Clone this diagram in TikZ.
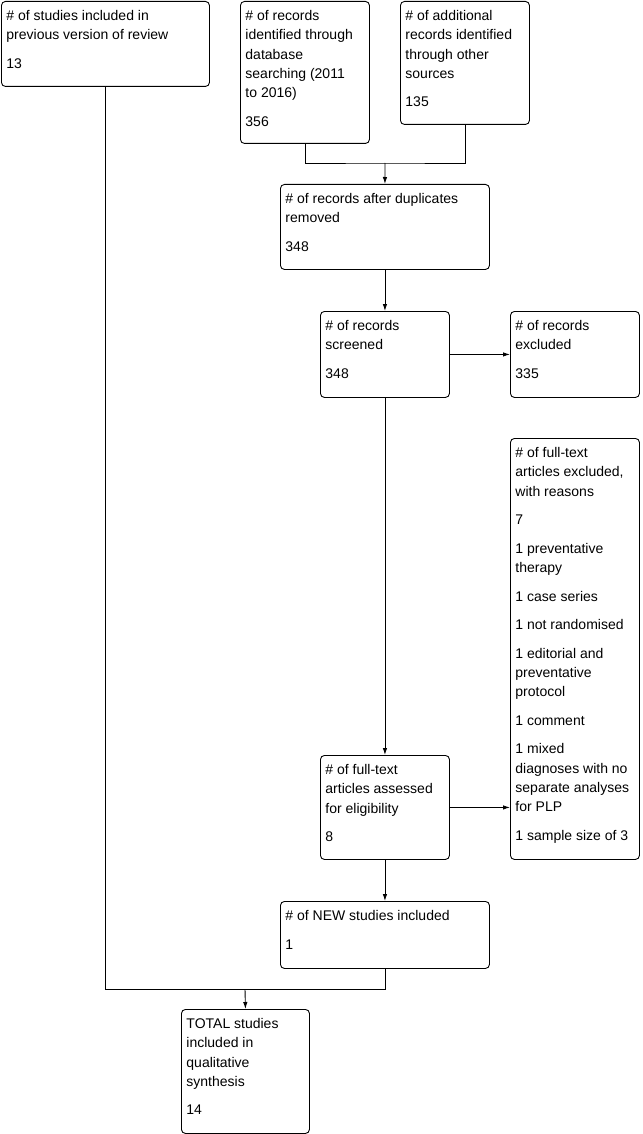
\documentclass[tikz,border=0pt]{standalone}
\usepackage{fontspec}
\setmainfont{Liberation Sans}
\usetikzlibrary{arrows.meta}

\tikzset{
  prisma/.style={draw, line width=0.9pt, rounded corners=4pt, anchor=north west,
    inner xsep=5pt, inner ysep=0pt, font=\fontsize{14}{19.2}\selectfont},
  link/.style={line width=0.9pt, -{Latex[length=7pt,width=4.5pt]}},
  plain/.style={line width=0.9pt},
}
\newcommand{\boxtxt}[3]{\parbox[t][#2pt][t]{#1pt}{\raggedright\rule{0pt}{19.3pt}#3}}
\newcommand{\gap}{\\[9.4pt]}

\begin{document}
\begin{tikzpicture}[x=1pt,y=-1pt]
    \useasboundingbox (0,0) rectangle (642,1134);
    \node[prisma] (prev) at (1,1) {\boxtxt{198}{85}{\# of studies included in\\previous version of review\gap 13}};
    \node[prisma] (db) at (240,1) {\boxtxt{119}{142}{\# of records\\identified through\\database\\searching (2011\\to 2016)\gap 356}};
    \node[prisma] (other) at (400,1) {\boxtxt{119}{123}{\# of additional\\records identified\\through other\\sources\gap 135}};
    \node[prisma] (dup) at (280,184) {\boxtxt{199}{85}{\# of records after duplicates\\removed\gap 348}};
    \node[prisma] (scr) at (320,311) {\boxtxt{119}{86}{\# of records\\screened\gap 348}};
    \node[prisma] (exc) at (510,311) {\boxtxt{119}{86}{\# of records\\excluded\gap 335}};
    \node[prisma] (ftexc) at (510,438) {\boxtxt{119}{421}{\# of full-text\\articles excluded,\\with reasons\gap 7\gap
        1 preventative\\therapy\gap 1 case series\gap 1 not randomised\gap
        1 editorial and\\preventative\\protocol\gap 1 comment\gap
        1 mixed\\diagnoses with no\\separate analyses\\for PLP\gap 1 sample size of 3}};
    \node[prisma] (ft) at (320,755) {\boxtxt{119}{104}{\# of full-text\\articles assessed\\for eligibility\gap 8}};
    \node[prisma] (new) at (280,901) {\boxtxt{199}{67}{\# of NEW studies included\gap 1}};
    \node[prisma] (total) at (181,1009) {\boxtxt{118}{124}{TOTAL studies\\included in\\qualitative\\synthesis\gap 14}};

    \coordinate (merge) at (385,163);
    \coordinate (join) at (245,989);
    \draw[plain] (db.south) |- (merge) -| (other.south);
    \draw[link] (merge) -- (dup.north);
    \draw[link] (dup.south) -- (scr.north);
    \draw[link] (scr.east) -- (exc.west);
    \draw[link] (scr.south) -- (ft.north);
    \draw[link] (ft.east) -- (ftexc.west |- ft.east);
    \draw[link] (ft.south) -- (new.north);
    \draw[plain] (new.south) |- (join) -| (prev.south);
    \draw[link] (join) -- (total.north);
\end{tikzpicture}
\end{document}
